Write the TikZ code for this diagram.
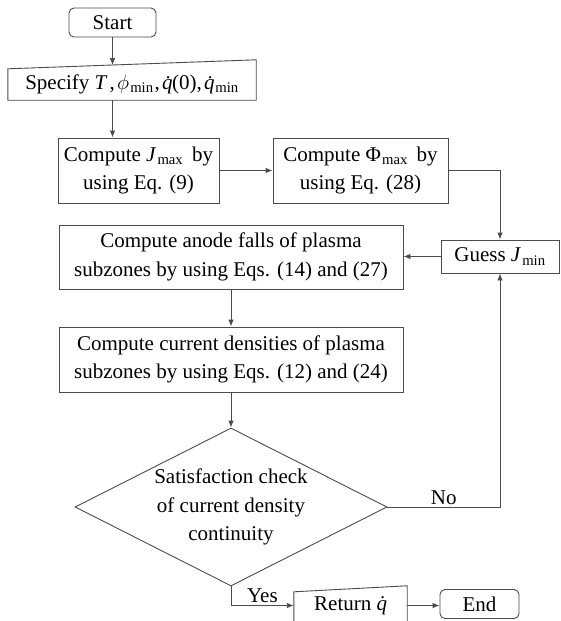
\documentclass[tikz,border=0pt]{standalone}
\usepackage{fontspec}
\setmainfont{Liberation Serif}
\usetikzlibrary{arrows.meta,shapes.geometric}
\newcommand{\mysub}[1]{\textsubscript{\kern0.08em #1}}
\newcommand{\qdot}{\textit{q̇}\kern-0.3em}
\begin{document}
\begin{tikzpicture}[x=1pt,y=-1pt,
  every node/.style={font=\fontsize{21}{28.5}\selectfont, text=black},
  ln/.style={draw=black!70, line width=0.9pt},
  arr/.style={ln, -{Latex[length=7pt,width=5.5pt]}},
  box/.style={ln, rectangle, inner sep=0pt, align=center},
  term/.style={box, rounded corners=5pt},
  plain/.style={rectangle, inner sep=0pt, align=center},
  lbl/.style={inner sep=2pt}
]
\useasboundingbox (0,0) rectangle (560,621);
\fill[white] (0,0) rectangle (560,621);

\node[term, minimum width=87pt, minimum height=29pt] (start) at (112.5,22.5) {Start};

\node[plain, minimum width=248pt, minimum height=31pt] (specify) at (132,84.5)
  {Specify \textit{T}\kern0.1em,\kern0.1em$\phi$\mysub{min}\kern0.05em,\kern0.1em\qdot(0),\kern0.1em\qdot\mysub{min}};
\draw[ln] (specify.south west) -- (specify.north west) -- ([yshift=9pt]specify.north east) -- (specify.south east) -- cycle;
\coordinate (specin) at (112.5,65.2);
\coordinate (colA) at (112.5,0);

\node[box, minimum width=161pt, minimum height=65pt] (jmax) at (138.5,170.5)
  {Compute \textit{J}\mysub{max} \,by\\using Eq. (9)};
\node[box, minimum width=175pt, minimum height=65pt] (phi) at (360.5,170.5)
  {Compute Φ\mysub{max} \,by\\using Eq. (28)};
\node[box, minimum width=118pt, minimum height=33pt] (guess) at (500,256.5)
  {Guess \textit{J}\mysub{min}};
\node[box, minimum width=344pt, minimum height=64pt] (anode) at (231,257)
  {Compute anode falls of plasma\\subzones by using Eqs. (14) and (27)};
\node[box, minimum width=344pt, minimum height=65pt] (current) at (231,359.5)
  {Compute current densities of plasma\\subzones by using Eqs. (12) and (24)};
\node[ln, diamond, minimum width=312pt, minimum height=158pt, inner sep=0pt] (check) at (231,507) {};
\node[plain] (checktext) at (check.center) {Satisfaction check\\of current density\\continuity};

\node[plain, minimum width=113pt, minimum height=27pt] (ret) at (350.5,605.5) {Return \qdot};
\draw[ln] ([yshift=-8pt]ret.south west) -- (ret.north west) -- ([yshift=6pt]ret.north east) -- ([yshift=-8pt]ret.south east);
\node[term, minimum width=79pt, minimum height=29pt] (end) at (479.5,604) {End};

\draw[arr] (start.south) -- (specin);
\draw[arr] (specify.south -| colA) -- (jmax.north -| colA);
\draw[arr] (jmax.east) -- (phi.west);
\draw[arr] (phi.east) -| (guess.north);
\draw[arr] (guess.west) -- (guess.west -| anode.east);
\draw[arr] (anode.south) -- (current.north);
\draw[arr] (current.south) -- (check.north);
\draw[arr] (check.east) -| (guess.south) node[lbl, pos=0.25, above] {No};
\draw[arr] (check.south) |- (ret.west) node[lbl, pos=0.75, above] {Yes};
\draw[arr] (ret.east) -- (ret.east -| end.west);
\end{tikzpicture}
\end{document}
